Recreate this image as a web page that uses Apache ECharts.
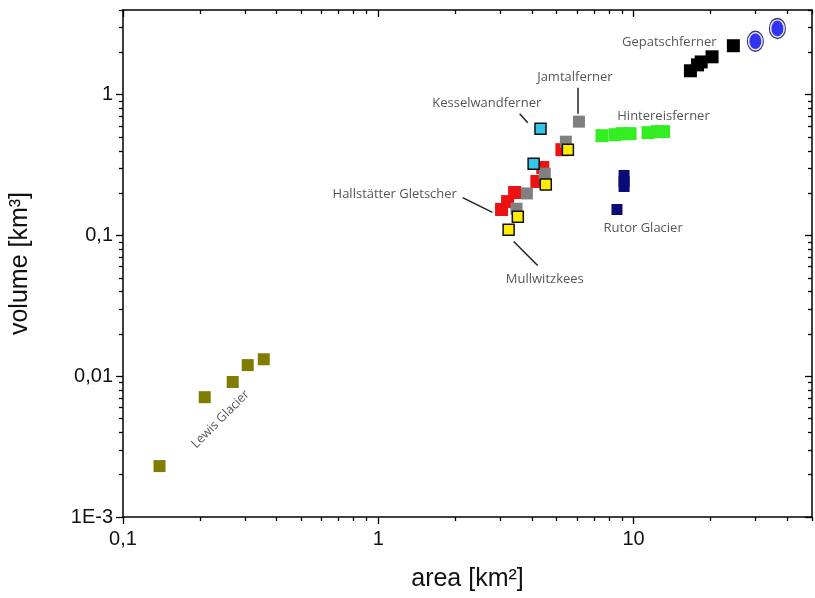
<!DOCTYPE html>
<html>
<head>
<meta charset="utf-8">
<script src="https://cdn.jsdelivr.net/npm/echarts@6/dist/echarts.min.js"></script>
<style>
html,body{margin:0;padding:0;background:#fff;}
#chart{width:815px;height:598px;}
</style>
</head>
<body>
<div id="chart"></div>
<script>
// ---- data: [area km², volume km³] ----
var lewis = [[0.139, 0.0023], [0.209, 0.0071], [0.269, 0.0091], [0.308, 0.0120], [0.356, 0.0132]];
var hallstaetter = [[5.24, 0.407], [4.41, 0.304], [4.18, 0.242], [3.42, 0.202], [3.21, 0.174], [3.04, 0.153]];
var jamtal = [[6.11, 0.644], [5.43, 0.464], [4.49, 0.275], [3.82, 0.199], [3.48, 0.155]];
var kesselwand = [[4.32, 0.574], [4.06, 0.324]];
var mullwitz = [[5.53, 0.407], [4.53, 0.230], [3.52, 0.136], [3.24, 0.110]];
var hintereis = [[7.52, 0.512], [8.46, 0.520], [9.01, 0.529], [9.69, 0.529], [11.4, 0.538], [12.4, 0.547], [13.1, 0.547]];
var rutor = [[9.18, 0.267], [9.18, 0.241], [9.18, 0.223], [8.61, 0.153]];
var gepatsch = [[16.7, 1.48], [17.8, 1.63], [18.4, 1.71], [20.3, 1.86], [24.6, 2.23]];
var gepatschBlue = [[30.0, 2.40], [36.6, 2.96]];

var xMajor = [0.1, 1, 10];
var xMinor = [0.2, 0.3, 0.4, 0.5, 0.6, 0.7, 0.8, 0.9, 2, 3, 4, 5, 6, 7, 8, 9, 20, 30, 40, 50];
var xTickLabels = ['0,1', '1', '10'];
var yMajor = [0.001, 0.01, 0.1, 1];
var yMinor = [0.002, 0.003, 0.004, 0.005, 0.006, 0.007, 0.008, 0.009, 0.02, 0.03, 0.04, 0.05, 0.06, 0.07, 0.08, 0.09, 0.2, 0.3, 0.4, 0.5, 0.6, 0.7, 0.8, 0.9, 2, 3, 4];
var yTickLabels = ['1E-3', '0,01', '0,1', '1'];

// annotation labels [x, y, text]
var annotations = [
  [13.8, 2.34, 'Gepatschferner'],
  [5.89, 1.32, 'Jamtalferner'],
  [2.66, 0.863, 'Kesselwandferner'],
  [13.1, 0.698, 'Hintereisferner'],
  [10.9, 0.112, 'Rutor Glacier'],
  [1.16, 0.195, 'Hallstätter Gletscher'],
  [4.49, 0.0488, 'Mullwitzkees']
];
var lewisLabel = [[0.241, 0.00495, 'Lewis Glacier']];
// leader lines [[x1,y1],[x2,y2]]
var leaders = [
  [[6.06, 1.12], [6.06, 0.733]],
  [[3.58, 0.733], [3.85, 0.633]],
  [[2.14, 0.186], [2.80, 0.146]],
  [[3.39, 0.0906], [4.21, 0.0612]]
];

var X_MIN = 0.1, X_MAX = 50, Y_MIN = 0.001, Y_MAX = 4;

function fmtX(v) { var i = xMajor.indexOf(v); return i >= 0 ? xTickLabels[i] : ''; }
function fmtY(v) {
  for (var i = 0; i < yMajor.length; i++) { if (Math.abs(v - yMajor[i]) / yMajor[i] < 1e-6) return yTickLabels[i]; }
  return '';
}

var lineStyle = { color: '#000', width: 1.5 };

function xAxisDef(pos, ticks, len, inside, showLine, showLabel) {
  return {
    type: 'log', logBase: 10, min: X_MIN, max: X_MAX, position: pos, gridIndex: 0,
    axisLine: { show: showLine, lineStyle: lineStyle, onZero: false },
    axisTick: { show: true, inside: inside, length: len, customValues: ticks, lineStyle: { color: '#000', width: 1.3 } },
    axisLabel: { show: showLabel, customValues: xMajor, formatter: fmtX, margin: 12,
      fontFamily: 'Liberation Sans Narrow, Liberation Sans, Arial', fontSize: 20, color: '#111' },
    splitLine: { show: false }, minorTick: { show: false }
  };
}
function yAxisDef(pos, ticks, len, inside, showLine, showLabel) {
  return {
    type: 'log', logBase: 10, min: Y_MIN, max: Y_MAX, position: pos, gridIndex: 0,
    axisLine: { show: showLine, lineStyle: lineStyle, onZero: false },
    axisTick: { show: true, inside: inside, length: len, customValues: ticks, lineStyle: { color: '#000', width: 1.3 } },
    axisLabel: { show: showLabel, customValues: yMajor, formatter: fmtY, margin: 10,
      fontFamily: 'Liberation Sans Narrow, Liberation Sans, Arial', fontSize: 20, color: '#111' },
    splitLine: { show: false }, minorTick: { show: false }
  };
}

function sq(name, data, color, border, size, z) {
  return {
    name: name, type: 'scatter', data: data, symbol: 'rect', symbolSize: size || 12,
    itemStyle: { color: color, borderColor: border || color, borderWidth: border ? 1.5 : 0, opacity: 1 },
    z: z || 2, xAxisIndex: 0, yAxisIndex: 0, silent: true
  };
}

var chart = echarts.init(document.getElementById('chart'), null, { renderer: 'canvas' });
chart.setOption({
  animation: false,
  backgroundColor: '#fff',
  grid: { left: 123, right: 3, top: 10, bottom: 81, containLabel: false },
  xAxis: [
    (function () { var a = xAxisDef('bottom', xMajor, 7, false, true, true);
      a.name = 'area [km²]'; a.nameLocation = 'middle'; a.nameGap = 50;
      a.nameTextStyle = { fontFamily: 'Liberation Sans, Arial', fontSize: 25, color: '#111' }; return a; })(),
    xAxisDef('bottom', xMinor, 4, false, false, false),
    xAxisDef('top', xMajor, 7, true, true, false),
    xAxisDef('top', xMinor, 4, true, false, false)
  ],
  yAxis: [
    (function () { var a = yAxisDef('left', yMajor, 7, false, true, true);
      a.name = 'volume [km³]'; a.nameLocation = 'middle'; a.nameGap = 90;
      a.nameTextStyle = { fontFamily: 'Liberation Sans, Arial', fontSize: 25, color: '#111' }; return a; })(),
    yAxisDef('left', yMinor, 4, false, false, false),
    yAxisDef('right', yMajor, 7, true, true, false),
    yAxisDef('right', yMinor, 4, true, false, false)
  ],
  series: [
    sq('Lewis Glacier', lewis, '#807c00', null, 12, 2),
    sq('Hallstätter Gletscher', hallstaetter, '#ee1111', null, 13, 2),
    sq('Jamtalferner', jamtal, '#808080', null, 12, 3),
    sq('Kesselwandferner', kesselwand, '#33c6e8', '#111', 11, 4),
    sq('Mullwitzkees', mullwitz, '#ffee00', '#111', 11, 5),
    sq('Hintereisferner', hintereis, '#33ee22', null, 13, 2),
    sq('Rutor Glacier', rutor, '#0b0b78', null, 11, 2),
    sq('Gepatschferner', gepatsch, '#000000', null, 13, 2),
    {
      name: 'Gepatschferner (2)', type: 'scatter', data: gepatschBlue, symbol: 'circle', symbolSize: [13, 17],
      itemStyle: { color: '#0000f0', borderColor: '#f4f6ff', borderWidth: 1.2 },
      z: 3, silent: true
    },
    {
      name: 'Gepatschferner (2) outline', type: 'scatter', data: gepatschBlue, symbol: 'circle', symbolSize: [16, 20],
      itemStyle: { color: 'rgba(0,0,0,0)', borderColor: '#0a0a50', borderWidth: 1.3 },
      z: 4, silent: true
    },
    {
      name: 'labels', type: 'scatter', symbolSize: 0, z: 6, silent: true,
      data: annotations.map(function (a) { return { value: [a[0], a[1]], name: a[2] }; }),
      label: { show: true, position: 'inside', formatter: '{b}', fontFamily: 'Open Sans, Noto Sans, sans-serif', fontSize: 13, color: '#2a2a2a' }
    },
    {
      name: 'lewis label', type: 'scatter', symbolSize: 0, z: 6, silent: true,
      data: lewisLabel.map(function (a) { return { value: [a[0], a[1]], name: a[2] }; }),
      label: { show: true, position: 'inside', rotate: 45, formatter: '{b}', fontFamily: 'Open Sans, Noto Sans, sans-serif', fontSize: 12.5, color: '#2a2a2a' }
    },
    {
      name: 'leaders', type: 'scatter', data: [], silent: true,
      markLine: {
        silent: true, symbol: ['none', 'none'], animation: false,
        lineStyle: { color: '#222', width: 1.5, type: 'solid' },
        label: { show: false },
        data: leaders.map(function (l) { return [{ coord: l[0] }, { coord: l[1] }]; })
      }
    }
  ]
});
</script>
</body>
</html>
